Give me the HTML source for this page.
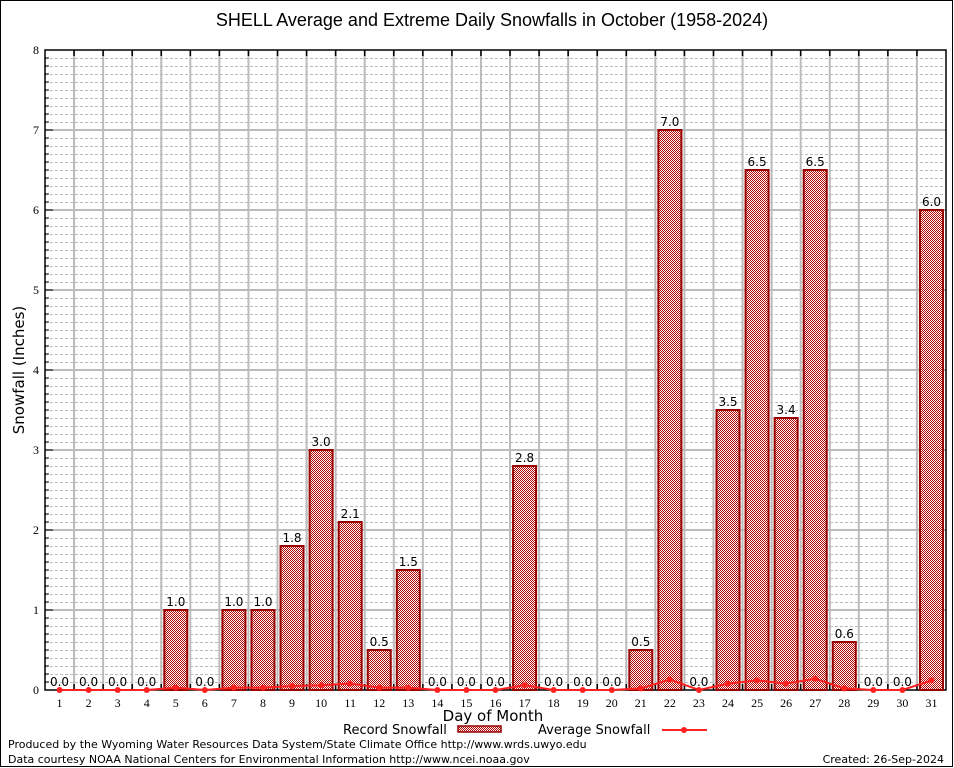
<!DOCTYPE html>
<html><head><meta charset="utf-8"><style>
html,body{margin:0;padding:0;background:#fff;}
svg{display:block;}
.t{font-family:"Liberation Serif",serif;font-size:12px;fill:#000;text-anchor:middle;}
.v{font-family:"DejaVu Sans",sans-serif;font-size:12px;fill:#000;text-anchor:middle;}
</style></head><body>
<svg id="s" width="954" height="768" xmlns="http://www.w3.org/2000/svg">
<defs>
<pattern id="chk" width="2" height="2" patternUnits="userSpaceOnUse">
<rect width="2" height="2" fill="#ffffff"/>
<rect width="1" height="1" fill="#b00000"/>
<rect x="1" y="1" width="1" height="1" fill="#b00000"/>
</pattern>
</defs>
<rect x="0.5" y="0.5" width="952" height="766" fill="#fff" stroke="#000"/>
<g id="grid"></g>
<g id="bars"></g>
<g id="avg"></g>
<text x="492" y="26" font-family="Liberation Sans, sans-serif" font-size="18" text-anchor="middle">SHELL Average and Extreme Daily Snowfalls in October (1958-2024)</text>
<text transform="translate(24,370) rotate(-90)" font-family="DejaVu Sans, sans-serif" font-size="15" text-anchor="middle">Snowfall (Inches)</text>
<text x="493" y="721" font-family="DejaVu Sans, sans-serif" font-size="15" text-anchor="middle">Day of Month</text>
<text x="343" y="734" font-family="DejaVu Sans, sans-serif" font-size="13">Record Snowfall</text>
<rect x="458" y="726" width="43" height="6" fill="url(#chk)" stroke="#990000" stroke-width="1.5"/>
<text x="538" y="734" font-family="DejaVu Sans, sans-serif" font-size="13">Average Snowfall</text>
<line x1="662" y1="730" x2="707" y2="730" stroke="#ff2020" stroke-width="2"/>
<circle cx="684" cy="730" r="3" fill="#ff2020"/>
<text x="8" y="748" font-family="DejaVu Sans, sans-serif" font-size="11">Produced by the Wyoming Water Resources Data System/State Climate Office http://www.wrds.uwyo.edu</text>
<text x="8" y="763" font-family="DejaVu Sans, sans-serif" font-size="11">Data courtesy NOAA National Centers for Environmental Information http://www.ncei.noaa.gov</text>
<text x="944" y="763" font-family="DejaVu Sans, sans-serif" font-size="11" text-anchor="end">Created:  26-Sep-2024</text>
<g class="t">
<text class="t" x="36" y="54">8</text><text class="t" x="36" y="134">7</text><text class="t" x="36" y="214">6</text><text class="t" x="36" y="294">5</text><text class="t" x="36" y="374">4</text><text class="t" x="36" y="454">3</text><text class="t" x="36" y="534">2</text><text class="t" x="36" y="614">1</text><text class="t" x="36" y="694">0</text>
<text class="t" x="59.5" y="707">1</text><text class="t" x="88.6" y="707">2</text><text class="t" x="117.6" y="707">3</text><text class="t" x="146.7" y="707">4</text><text class="t" x="175.8" y="707">5</text><text class="t" x="204.8" y="707">6</text><text class="t" x="233.9" y="707">7</text><text class="t" x="263" y="707">8</text><text class="t" x="292" y="707">9</text><text class="t" x="321.1" y="707">10</text><text class="t" x="350.2" y="707">11</text><text class="t" x="379.2" y="707">12</text><text class="t" x="408.3" y="707">13</text><text class="t" x="437.4" y="707">14</text><text class="t" x="466.4" y="707">15</text><text class="t" x="495.5" y="707">16</text><text class="t" x="524.6" y="707">17</text><text class="t" x="553.6" y="707">18</text><text class="t" x="582.7" y="707">19</text><text class="t" x="611.8" y="707">20</text><text class="t" x="640.8" y="707">21</text><text class="t" x="669.9" y="707">22</text><text class="t" x="698.9" y="707">23</text><text class="t" x="728" y="707">24</text><text class="t" x="757.1" y="707">25</text><text class="t" x="786.1" y="707">26</text><text class="t" x="815.2" y="707">27</text><text class="t" x="844.3" y="707">28</text><text class="t" x="873.3" y="707">29</text><text class="t" x="902.4" y="707">30</text><text class="t" x="931.5" y="707">31</text>
</g>
<g>
<text class="v" x="59.5" y="686">0.0</text><text class="v" x="88.6" y="686">0.0</text><text class="v" x="117.6" y="686">0.0</text><text class="v" x="146.7" y="686">0.0</text><text class="v" x="175.8" y="606">1.0</text><text class="v" x="204.8" y="686">0.0</text><text class="v" x="233.9" y="606">1.0</text><text class="v" x="263" y="606">1.0</text><text class="v" x="292" y="542">1.8</text><text class="v" x="321.1" y="446">3.0</text><text class="v" x="350.2" y="518">2.1</text><text class="v" x="379.2" y="646">0.5</text><text class="v" x="408.3" y="566">1.5</text><text class="v" x="437.4" y="686">0.0</text><text class="v" x="466.4" y="686">0.0</text><text class="v" x="495.5" y="686">0.0</text><text class="v" x="524.6" y="462">2.8</text><text class="v" x="553.6" y="686">0.0</text><text class="v" x="582.7" y="686">0.0</text><text class="v" x="611.8" y="686">0.0</text><text class="v" x="640.8" y="646">0.5</text><text class="v" x="669.9" y="126">7.0</text><text class="v" x="698.9" y="686">0.0</text><text class="v" x="728" y="406">3.5</text><text class="v" x="757.1" y="166">6.5</text><text class="v" x="786.1" y="414">3.4</text><text class="v" x="815.2" y="166">6.5</text><text class="v" x="844.3" y="638">0.6</text><text class="v" x="873.3" y="686">0.0</text><text class="v" x="902.4" y="686">0.0</text><text class="v" x="931.5" y="206">6.0</text>
</g>
</svg>
<script>
(function(){
var NS="http://www.w3.org/2000/svg";
function el(p,n,a){var e=document.createElementNS(NS,n);for(var k in a)e.setAttribute(k,a[k]);p.appendChild(e);return e;}
var L=45,R=946,T=50,B=690,W=(R-L)/31;
function cx(d){return L+W*(d-0.5);}
function y(v){return B-80*v;}
var g=document.getElementById('grid');
for(var i=0;i<80;i++){if(i%10==0)continue;var yy=y(i/10)+0.5;el(g,'line',{x1:L,y1:yy,x2:R,y2:yy,stroke:'#bbb','stroke-dasharray':'3,2','stroke-width':1});}
for(var i=1;i<8;i++){el(g,'line',{x1:L,y1:y(i),x2:R,y2:y(i),stroke:'#bbb','stroke-width':2});}
for(var d=1;d<31;d++){var x=L+W*d;el(g,'line',{x1:x,y1:T,x2:x,y2:B,stroke:'#bbb','stroke-width':2});
el(g,'line',{x1:x,y1:T,x2:x,y2:T+6,stroke:'#000','stroke-width':1.5});el(g,'line',{x1:x,y1:B,x2:x,y2:B-6,stroke:'#000','stroke-width':1.5});}
for(var i=1;i<80;i++){var yy=y(i/10);el(g,'line',{x1:L,y1:yy,x2:L+(i%10==0?8:4),y2:yy,stroke:'#000'});}
el(g,'rect',{x:L,y:T,width:R-L,height:B-T,fill:'none',stroke:'#000','stroke-width':1.5});
var vals={5:1,7:1,8:1,9:1.8,10:3,11:2.1,12:0.5,13:1.5,17:2.8,21:0.5,22:7,24:3.5,25:6.5,26:3.4,27:6.5,28:0.6,31:6};
var b=document.getElementById('bars');
for(var d in vals){var v=vals[d];el(b,'rect',{x:cx(+d)-11.5,y:y(v),width:23,height:B-y(v),fill:'url(#chk)',stroke:'#990000','stroke-width':2});}
var av=[0,0,0,0,0.03,0,0.03,0.03,0.05,0.06,0.08,0.03,0.03,0,0,0,0.06,0,0,0,0.02,0.13,0,0.08,0.12,0.08,0.14,0.02,0,0,0.12];
var a=document.getElementById('avg'),pts=[];
for(var d=1;d<=31;d++){pts.push(cx(d)+','+y(av[d-1]));}
el(a,'polyline',{points:pts.join(' '),fill:'none',stroke:'#ff2020','stroke-width':2});
for(var d=1;d<=31;d++){el(a,'circle',{cx:cx(d),cy:y(av[d-1]),r:3,fill:'#ff2020'});}
})();
</script>
</body></html>
